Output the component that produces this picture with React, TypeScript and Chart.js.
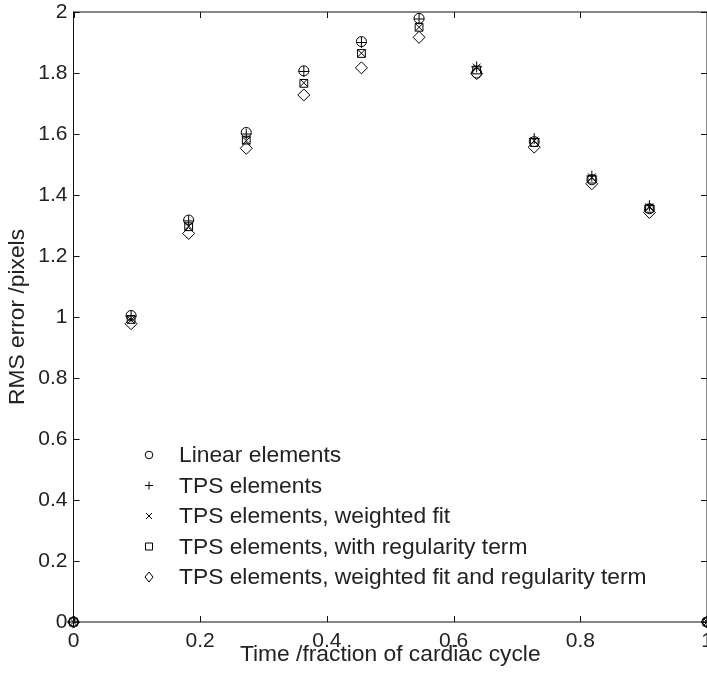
import React, { useEffect, useRef } from "react";
import { Chart, registerables } from "chart.js";

Chart.register(...registerables);

const timePoints = [0, 0.0909, 0.1818, 0.2727, 0.3636, 0.4545, 0.5455, 0.6364, 0.7273, 0.8182, 0.9091, 1];
const linearElements = [0, 1.005, 1.318, 1.605, 1.807, 1.903, 1.979, 1.8, 1.575, 1.45, 1.355, 0];
const tpsElements = [0, 1.003, 1.315, 1.6, 1.805, 1.9, 1.977, 1.82, 1.585, 1.462, 1.365, 0];
const tpsWeighted = [0, 0.99, 1.298, 1.578, 1.768, 1.865, 1.95, 1.818, 1.578, 1.458, 1.36, 0];
const tpsRegularity = [0, 0.992, 1.296, 1.58, 1.766, 1.864, 1.95, 1.81, 1.572, 1.452, 1.356, 0];
const tpsWeightedReg = [0, 0.978, 1.274, 1.553, 1.728, 1.817, 1.917, 1.798, 1.557, 1.437, 1.343, 0];

const seriesLabels = [
  "Linear elements",
  "TPS elements",
  "TPS elements, weighted fit",
  "TPS elements, with regularity term",
  "TPS elements, weighted fit and regularity term",
];

const FONT = "'Liberation Sans', Arial, Helvetica, sans-serif";
const TEXT = "#222";
const TICK_SIZE = 21;
const LABEL_SIZE = 22.8;

function drawLegendMarker(ctx: CanvasRenderingContext2D, kind: string, x: number, y: number) {
  ctx.beginPath();
  if (kind === "circle") {
    ctx.arc(x, y, 3.8, 0, Math.PI * 2);
  } else if (kind === "cross") {
    ctx.moveTo(x - 4, y); ctx.lineTo(x + 4, y);
    ctx.moveTo(x, y - 4); ctx.lineTo(x, y + 4);
  } else if (kind === "crossRot") {
    ctx.moveTo(x - 3, y - 3); ctx.lineTo(x + 3, y + 3);
    ctx.moveTo(x - 3, y + 3); ctx.lineTo(x + 3, y - 3);
  } else if (kind === "rect") {
    ctx.rect(x - 3.5, y - 3.5, 7, 7);
  } else if (kind === "rectRot") {
    ctx.moveTo(x, y - 5); ctx.lineTo(x + 4, y); ctx.lineTo(x, y + 5); ctx.lineTo(x - 4, y); ctx.closePath();
  }
  ctx.stroke();
}

const framePlugin = {
  id: "frameTicks",
  afterDraw(chart: any) {
    const { ctx, chartArea } = chart;
    const { left, right, top, bottom } = chartArea;
    ctx.save();
    ctx.strokeStyle = "#111";
    ctx.lineWidth = 1;
    ctx.strokeRect(left, top, right - left, bottom - top);
    const xs = chart.scales.x;
    const ys = chart.scales.y;
    const tl = 6;
    ctx.beginPath();
    xs.ticks.forEach((t: any) => {
      const px = Math.round(xs.getPixelForValue(t.value)) + 0.5;
      ctx.moveTo(px, bottom); ctx.lineTo(px, bottom - tl);
      ctx.moveTo(px, top); ctx.lineTo(px, top + tl);
    });
    ys.ticks.forEach((t: any) => {
      const py = Math.round(ys.getPixelForValue(t.value)) + 0.5;
      ctx.moveTo(left, py); ctx.lineTo(left + tl, py);
      ctx.moveTo(right, py); ctx.lineTo(right - tl, py);
    });
    ctx.stroke();

    // legend
    const styles = chart.data.datasets.map((d: any) => d.pointStyle);
    const markerX = left + 75.5;
    const textX = left + 105.5;
    const y0 = top + 443;
    const dy = 30.5;
    ctx.font = `${LABEL_SIZE}px ${FONT}`;
    ctx.fillStyle = TEXT;
    ctx.textBaseline = "middle";
    ctx.textAlign = "left";
    ctx.strokeStyle = "#000";
    chart.data.datasets.forEach((d: any, i: number) => {
      const y = y0 + i * dy;
      drawLegendMarker(ctx, styles[i], markerX, y);
      ctx.fillText(d.label, textX, y + 1);
    });
    ctx.restore();
  },
};

const fmt = (v: any) => String(parseFloat(Number(v).toFixed(2)));

export default function App() {
  const ref = useRef<HTMLCanvasElement | null>(null);
  useEffect(() => {
    document.body.style.margin = "0";
    document.body.style.overflow = "hidden";
    if (!ref.current) return;
    const mk = (label: string, data: number[], style: string, radius: number) => ({
      label,
      data: timePoints.map((x, i) => ({ x, y: data[i] })),
      pointStyle: style,
      pointRadius: radius,
      pointHoverRadius: radius,
      borderColor: "#000",
      backgroundColor: "rgba(0,0,0,0)",
      pointBorderWidth: 1,
      showLine: false,
      clip: false as any,
    });
    const chart = new Chart(ref.current, {
      type: "scatter",
      data: {
        datasets: [
          mk(seriesLabels[0], linearElements, "circle", 5),
          mk(seriesLabels[1], tpsElements, "cross", 5.5),
          mk(seriesLabels[2], tpsWeighted, "crossRot", 5.5),
          mk(seriesLabels[3], tpsRegularity, "rect", 5.5),
          mk(seriesLabels[4], tpsWeightedReg, "rectRot", 6),
        ] as any,
      },
      options: {
        animation: false,
        responsive: false,
        layout: { autoPadding: false, padding: { top: 12, right: 0, left: 0, bottom: 0 } },
        plugins: { legend: { display: false }, tooltip: { enabled: false } },
        scales: {
          x: {
            type: "linear",
            min: 0,
            max: 1,
            grid: { display: false, drawTicks: false },
            border: { display: false },
            ticks: { stepSize: 0.2, padding: 7, color: TEXT, font: { family: FONT, size: TICK_SIZE }, maxRotation: 0, callback: fmt },
            title: {
              display: true,
              text: "Time /fraction of cardiac cycle",
              color: TEXT,
              font: { family: FONT, size: LABEL_SIZE, lineHeight: 1.2 },
              padding: { top: 0, bottom: 10.5 },
            },
            afterFit(scale: any) {
              scale.height = 57;
              scale.paddingLeft = 0;
              scale.paddingRight = 0;
            },
          },
          y: {
            type: "linear",
            min: 0,
            max: 2,
            grid: { display: false, drawTicks: false },
            border: { display: false },
            ticks: { stepSize: 0.2, padding: 6, color: TEXT, font: { family: FONT, size: TICK_SIZE }, callback: fmt },
            title: {
              display: true,
              text: "RMS error /pixels",
              color: TEXT,
              font: { family: FONT, size: LABEL_SIZE, lineHeight: 1.2 },
              padding: { top: 4.5, bottom: 0 },
            },
            afterFit(scale: any) {
              scale.width = 73.5;
              scale.paddingTop = 0;
              scale.paddingBottom = 0;
            },
          },
        },
      },
      plugins: [framePlugin],
    });
    return () => chart.destroy();
  }, []);
  return <canvas ref={ref} width={707} height={679} style={{ display: "block" }} />;
}
